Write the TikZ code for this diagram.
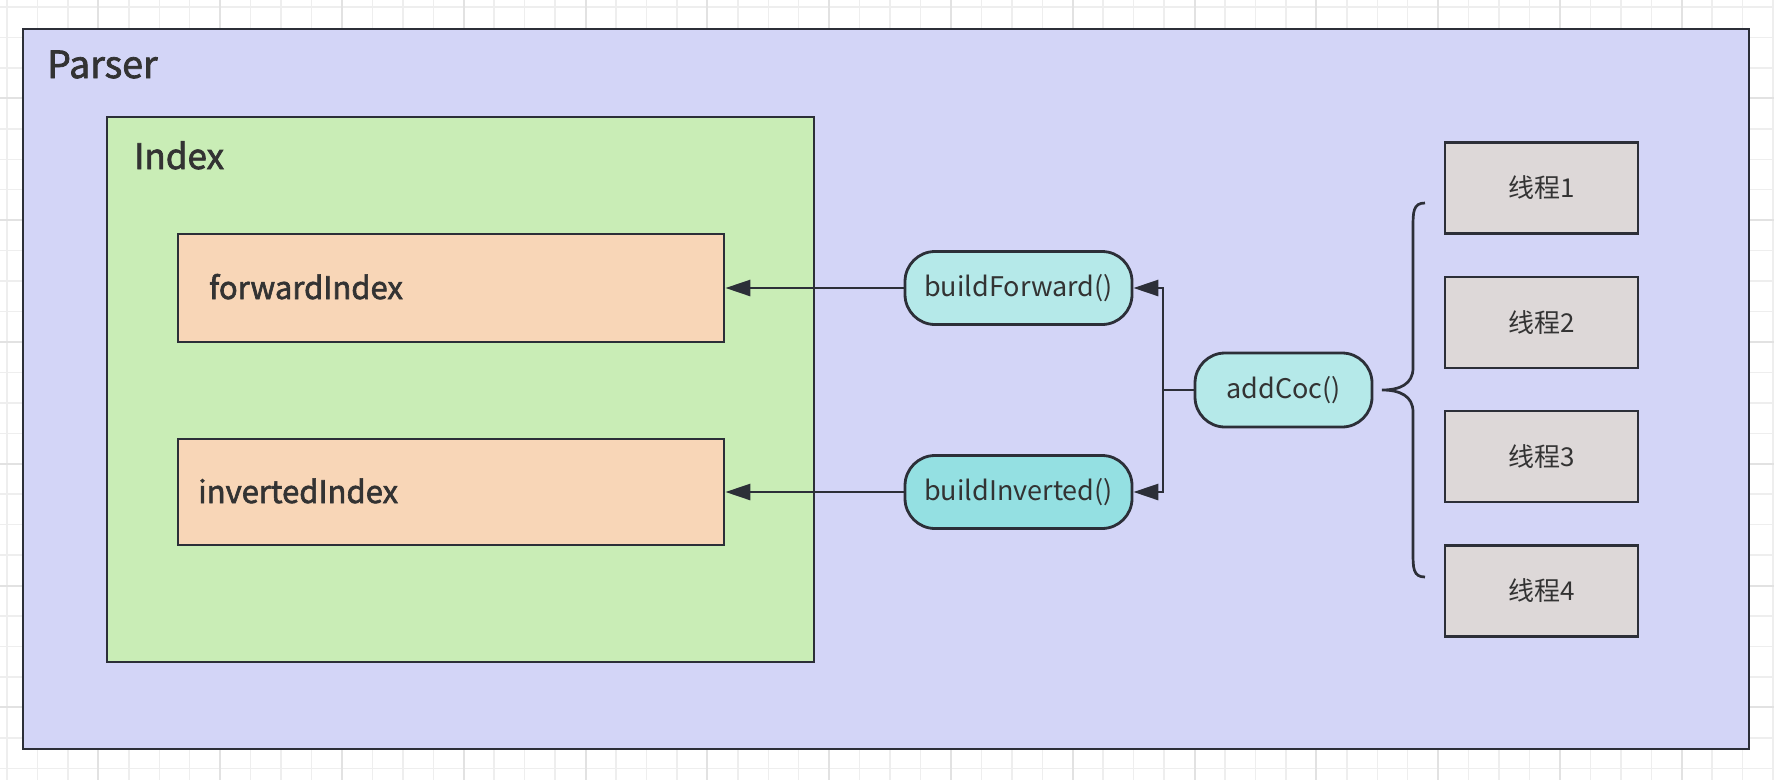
\documentclass[tikz,border=0pt]{standalone}
\usepackage{fontspec}
\setmainfont{Noto Sans CJK SC}
\newfontfamily\heavy{Noto Sans CJK SC}[FakeBold=2]
\usetikzlibrary{arrows.meta}

\definecolor{gridline}{RGB}{238,238,238}
\definecolor{gridbold}{RGB}{226,226,226}
\definecolor{parserfill}{RGB}{211,213,247}
\definecolor{indexfill}{RGB}{201,237,182}
\definecolor{tablefill}{RGB}{248,214,183}
\definecolor{funcfill}{RGB}{181,233,233}
\definecolor{funcdark}{RGB}{148,224,226}
\definecolor{threadfill}{RGB}{221,216,216}
\definecolor{edge}{RGB}{44,47,56}
\definecolor{ink}{RGB}{51,51,51}

\tikzset{
  box/.style={draw=edge, line width=2.8pt, rectangle, inner sep=0pt},
  title/.style={anchor=base west, text=ink, inner sep=0pt},
  func/.style={box, rounded corners=30pt, fill=funcfill, minimum width=227pt,
    minimum height=73pt, text=ink, font=\fontsize{27}{32}\selectfont},
  thread/.style={box, fill=threadfill, minimum width=193pt, minimum height=91pt,
    text=ink, font=\fontsize{26}{30}\selectfont},
  link/.style={draw=edge, line width=2.8pt, -{Triangle[length=25pt,width=16pt]}},
}

\begin{document}
\begin{tikzpicture}[x=1pt, y=-1pt]
\useasboundingbox (0,0) rectangle (1774,780);

% Background grid
\fill[white] (0,0) rectangle (1774,780);
\foreach \k in {0,...,58} \draw[gridline, line width=1.5pt] ({7+30.45*\k},0) -- ({7+30.45*\k},780);
\foreach \k in {0,...,25} \draw[gridline, line width=1.5pt] (0,{7+30.45*\k}) -- (1774,{7+30.45*\k});
\foreach \k in {3,7,...,55} \draw[gridbold, line width=2pt] ({7+30.45*\k},0) -- ({7+30.45*\k},780);
\foreach \k in {3,7,...,23} \draw[gridbold, line width=2pt] (0,{7+30.45*\k}) -- (1774,{7+30.45*\k});

% Parser container
\node[box, fill=parserfill, minimum width=1726pt, minimum height=720pt] (parser) at (886,389) {};
\node[title, font=\heavy\fontsize{37.5}{44}\selectfont] (parsertitle) at (47,78) {Parser};

% Index container with its two tables
\node[box, fill=indexfill, minimum width=707pt, minimum height=545pt] (index) at (460.5,389.5) {};
\node[title, font=\heavy\fontsize{35}{42}\selectfont] (indextitle) at (134,169) {Index};
\node[box, fill=tablefill, minimum width=546pt, minimum height=108pt] (fwd) at (451,288) {};
\node[title, font=\heavy\fontsize{31}{36}\selectfont] (fwdlabel) at (209,299) {forwardIndex};
\node[box, fill=tablefill, minimum width=546pt, minimum height=106pt] (inv) at (451,492) {};
\node[title, font=\heavy\fontsize{31}{36}\selectfont] (invlabel) at (198,503) {invertedIndex};

% Build functions
\node[func] (bf) at (1018.5,288) {buildForward()};
\node[func, fill=funcdark] (bi) at (1018.5,492) {buildInverted()};
\node[func, minimum width=177pt, minimum height=74pt] (ac) at (1283.5,390) {addCoc()};

% Threads
\foreach \i/\y in {1/188,2/322.5,3/456.5,4/591}
  \node[thread] (t\i) at (1541.5,\y) {线程\i};

% Connectors
\coordinate (split) at (1163,390);
\draw[edge, line width=2.8pt] (ac.west) -- (split);
\draw[link] (split) |- (bf.east);
\draw[link] (split) |- (bi.east);
\draw[link] (bf.west) -- (fwd.east);
\draw[link] (bi.west) -- (inv.east);

% Brace over the threads
\draw[edge, line width=2.7pt] (1425,203) .. controls (1413,203) and (1413,212) .. (1413,228)
  -- (1413,368) .. controls (1413,384) and (1400,390) .. (1382,390)
  .. controls (1400,390) and (1413,396) .. (1413,412)
  -- (1413,552) .. controls (1413,568) and (1413,577) .. (1425,577);
\end{tikzpicture}
\end{document}
